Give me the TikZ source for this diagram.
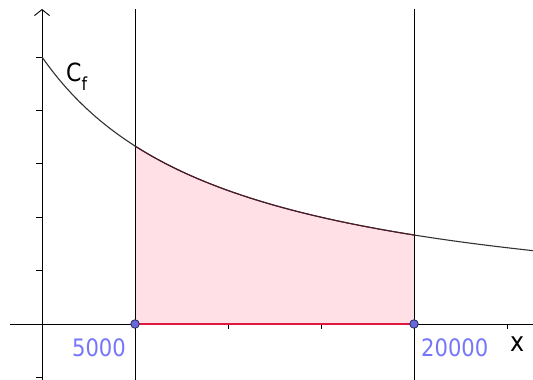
\documentclass[tikz,border=0pt]{standalone}
\usepackage{fontspec}
\setmainfont{DejaVu Sans}
\usetikzlibrary{arrows.meta}
\definecolor{lblue}{RGB}{118,118,250}
\definecolor{pinkfill}{RGB}{255,224,230}
\definecolor{edgered}{RGB}{225,25,65}
\definecolor{ptfill}{RGB}{105,105,220}
\definecolor{ptdraw}{RGB}{40,40,90}
\definecolor{curvecol}{RGB}{50,50,50}
\definecolor{curvein}{RGB}{80,25,40}
\begin{document}
\begin{tikzpicture}[x=1pt,y=1pt,
 axis/.style={line width=0.9pt,black},
 vline/.style={line width=1pt,black},
 curve/.style={line width=1.1pt,curvecol},
 tickmark/.style={line width=0.9pt,black},
 pt/.style={circle,fill=ptfill,draw=ptdraw,line width=0.8pt,inner sep=0pt,minimum size=8.5pt},
 lbl/.style={text=lblue,font=\fontsize{24}{28}\selectfont,xscale=0.88,inner sep=0pt},
]
\useasboundingbox (0,0) rectangle (533,380);
\coordinate (O) at (42,56);
\coordinate (Xl) at (10,56);
\coordinate (Xr) at (533,56);
\coordinate (Yb) at (42,0);
\coordinate (Yt) at (42,371);
\coordinate (Pa) at (135,56);
\coordinate (Pb) at (414,56);
\coordinate (Pat) at (135,371);
\coordinate (Pab) at (135,0);
\coordinate (Pbt) at (414,371);
\coordinate (Pbb) at (414,0);
% shaded region
\fill[pinkfill] (Pa) -- plot[domain=135:414,samples=80] (\x,{56+267/(1+(\x-42)/186)}) -- (Pb) -- cycle;
% axes
\draw[axis] (Xl) -- (Xr);
\draw[axis,-{Straight Barb[length=6pt,width=15pt]}] (Yb) -- (Yt);
% ticks
\foreach \t in {2.6,109.4,162.8,216.2,269.6,323}
  \draw[tickmark] (36,\t) -- (42,\t);
\foreach \t in {228,321,507}
  \draw[tickmark] (\t,56) -- (\t,51);
% red bottom edge
\draw[edgered,line width=1.4pt] (Pa) -- (Pb);
% vertical lines
\draw[vline] (Pab) -- (Pat);
\draw[vline] (Pbb) -- (Pbt);
% curve
\draw[curve] plot[domain=42:533,samples=150] (\x,{56+267/(1+(\x-42)/186)});
\draw[line width=1.1pt,curvein] plot[domain=135:414,samples=80] (\x,{56+267/(1+(\x-42)/186)});
% points
\node[pt] (A) at (Pa) {};
\node[pt] (B) at (Pb) {};
% labels
\node[lbl,anchor=base east] (l5000) at (126,23.5) {5000};
\node[lbl,anchor=base west] (l20000) at (421,23.5) {20000};
\node[anchor=base west,font=\fontsize{27}{30}\selectfont,xscale=0.88,inner sep=0pt] (xlab) at (510,28.3) {x};
\node[anchor=base west,inner sep=0pt,xscale=0.88] (cf) at (66,298.3) {\fontsize{25}{30}\selectfont C\raisebox{-9pt}{\fontsize{18}{20}\selectfont f}};
\end{tikzpicture}
\end{document}
